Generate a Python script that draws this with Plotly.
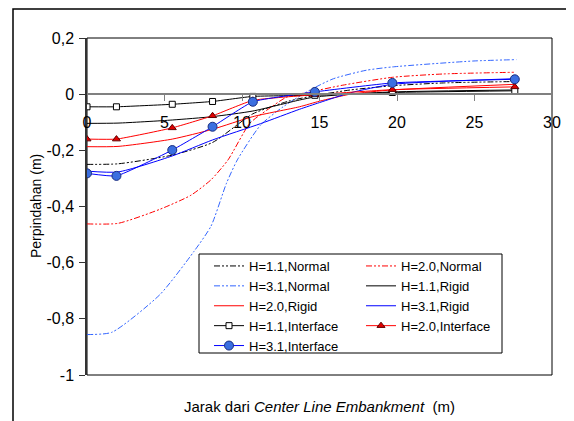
import plotly.graph_objects as go

# ---------------- data ----------------
# Interface series (with markers)
x_int = [0, 1.9, 5.5, 8.1, 10.7, 14.7, 19.7, 27.6]
y_int_11 = [-0.045, -0.045, -0.036, -0.026, -0.008, -0.004, 0.006, 0.012]
y_int_20 = [-0.16, -0.16, -0.12, -0.077, -0.022, -0.002, 0.016, 0.026]
y_int_31 = [-0.282, -0.291, -0.199, -0.116, -0.027, 0.008, 0.040, 0.053]

# Normal series (dash-dot)
x_n11 = [0, 2, 5.5, 8.1, 10.7, 13, 14.7, 17, 19.7, 23, 27.6]
y_n11 = [-0.25, -0.248, -0.217, -0.172, -0.07, -0.025, -0.005, 0.015, 0.03, 0.04, 0.045]

x_n20 = [0, 2, 4.7, 6.7, 8, 9.1, 10.5, 11.6, 12.9, 14.4, 16.5, 19.7, 23, 27.6]
y_n20 = [-0.462, -0.46, -0.41, -0.36, -0.305, -0.234, -0.104, -0.057, -0.01, 0.008, 0.032, 0.06, 0.072, 0.078]

x_n31 = [0, 1.6, 4.7, 6.9, 8, 9, 9.7, 11.2, 12.65, 14.4, 15.9, 18, 19.7, 24.9, 27.7]
y_n31 = [-0.856, -0.848, -0.714, -0.56, -0.47, -0.317, -0.234, -0.11, -0.045, 0.015, 0.055, 0.085, 0.097, 0.118, 0.123]

# Rigid series (solid)
x_r11 = [0, 2, 5.5, 8.1, 10.7, 13.7, 14.7, 17, 19.7, 27.6]
y_r11 = [-0.104, -0.103, -0.092, -0.08, -0.06, -0.021, -0.01, 0.0, 0.008, 0.015]

x_r20 = [0, 2, 5.5, 8.1, 10.7, 13.7, 15, 17, 19.7, 27.6]
y_r20 = [-0.187, -0.186, -0.16, -0.125, -0.08, -0.045, -0.025, 0.0, 0.015, 0.035]

x_r31 = [0, 2, 5.5, 8.1, 11.2, 13.7, 15, 17, 19.7, 27.6]
y_r31 = [-0.274, -0.277, -0.22, -0.163, -0.105, -0.054, -0.03, 0.005, 0.035, 0.055]

x_ticks = [0, 5, 10, 15, 20, 25, 30]
y_ticks = [0.2, 0, -0.2, -0.4, -0.6, -0.8, -1]
y_ticktext = ["0,2", "0", "-0,2", "-0,4", "-0,6", "-0,8", "-1"]

# ---------------- figure ----------------
FONT = "Liberation Sans, Arial, sans-serif"
DASHDOT = "6px,2px,2px,2px,2px,2px"
BLACK = "#000000"
RED = "#FF0000"
BLUE = "#0000FF"
LBLUE = "#3366FF"

fig = go.Figure()

def line_trace(x, y, name, color, dash, legend, width=1):
    return go.Scatter(x=x, y=y, name=name, mode="lines",
                      line=dict(color=color, width=width, dash=dash,
                                shape="spline", smoothing=0.6),
                      legend=legend)

# column 1 (legend) / column 2 (legend2), ordered as in the reference
fig.add_trace(line_trace(x_n11, y_n11, "H=1.1,Normal", BLACK, DASHDOT, "legend"))
fig.add_trace(line_trace(x_n20, y_n20, "H=2.0,Normal", RED, DASHDOT, "legend2"))
fig.add_trace(line_trace(x_n31, y_n31, "H=3.1,Normal", LBLUE, DASHDOT, "legend"))
fig.add_trace(line_trace(x_r11, y_r11, "H=1.1,Rigid", BLACK, "solid", "legend2"))
fig.add_trace(line_trace(x_r20, y_r20, "H=2.0,Rigid", RED, "solid", "legend"))
fig.add_trace(line_trace(x_r31, y_r31, "H=3.1,Rigid", BLUE, "solid", "legend2"))

fig.add_trace(go.Scatter(x=x_int, y=y_int_11, name="H=1.1,Interface", mode="lines+markers",
                         line=dict(color=BLACK, width=1, shape="spline", smoothing=0.4),
                         marker=dict(symbol="square", size=6, color="white",
                                     line=dict(color=BLACK, width=1)),
                         legend="legend"))
fig.add_trace(go.Scatter(x=x_int, y=y_int_20, name="H=2.0,Interface", mode="lines+markers",
                         line=dict(color=RED, width=1, shape="spline", smoothing=0.4),
                         marker=dict(symbol="triangle-up", size=7, color="#E00000",
                                     line=dict(color="#600000", width=1)),
                         legend="legend2"))
fig.add_trace(go.Scatter(x=x_int, y=y_int_31, name="H=3.1,Interface", mode="lines+markers",
                         line=dict(color=BLUE, width=1, shape="spline", smoothing=0.4),
                         marker=dict(symbol="circle", size=9, color="#3B6FE0",
                                     line=dict(color="#1A2E80", width=1)),
                         legend="legend"))

# window is 574x421, page body has an 8px margin
OFF = 8
W, H = 574 - OFF, 421 - OFF
PL, PR, PT, PB = 87, 552, 38, 375   # plot box in window pixels
L, R, T, B = PL - OFF, 574 - PR, PT - OFF, 421 - PB
pw = PR - PL
ph = PB - PT

def px_x(p):
    return (p - PL) / pw

def px_y(p):
    return (PB - p) / ph

fig.update_layout(
    width=W, height=H,
    margin=dict(l=L, r=R, t=T, b=B, autoexpand=False),
    paper_bgcolor="white", plot_bgcolor="white",
    font=dict(family=FONT, color="black"),
    legend=dict(x=px_x(209), y=px_y(251), xanchor="left", yanchor="top",
                bgcolor="rgba(0,0,0,0)", borderwidth=0,
                font=dict(size=13, family=FONT), tracegroupgap=0),
    legend2=dict(x=px_x(361), y=px_y(251), xanchor="left", yanchor="top",
                 bgcolor="rgba(0,0,0,0)", borderwidth=0,
                 font=dict(size=13, family=FONT), tracegroupgap=0),
    xaxis=dict(range=[0, 30], tickvals=x_ticks, showgrid=False, zeroline=False,
               anchor="free", position=1 / 1.2,
               showline=True, linecolor="#808080", linewidth=1.5,
               ticks="outside", ticklen=6, tickcolor="#808080", tickwidth=1,
               tickfont=dict(size=16, family=FONT), ticklabelstandoff=8),
    yaxis=dict(range=[-1, 0.2], tickvals=y_ticks, ticktext=y_ticktext,
               showgrid=False, zeroline=False,
               showline=True, linecolor="#333333", linewidth=1.5,
               ticks="outside", ticklen=6, tickcolor="#333333", tickwidth=1,
               tickfont=dict(size=16, family=FONT), ticklabelstandoff=2),
    showlegend=True,
)

# plot box, outer frame, legend box
fig.add_shape(type="rect", xref="paper", yref="paper", x0=0, x1=1, y0=0, y1=1,
              line=dict(color="black", width=1), layer="below")
fig.add_shape(type="rect", xref="paper", yref="paper",
              x0=px_x(13), x1=px_x(600), y0=px_y(450), y1=px_y(9),
              line=dict(color="black", width=1.5), layer="below")
fig.add_shape(type="rect", xref="paper", yref="paper",
              x0=px_x(199), x1=px_x(502), y0=px_y(353), y1=px_y(254),
              line=dict(color="black", width=1), fillcolor="white", layer="above")

fig.add_annotation(text="Perpindahan (m)", xref="paper", yref="paper",
                   x=px_x(36), y=px_y(206), textangle=-90, showarrow=False,
                   font=dict(size=14, family=FONT), xanchor="center", yanchor="middle")
fig.add_annotation(text="Jarak dari <i>Center Line Embankment</i>  (m)",
                   xref="paper", yref="paper", x=px_x(319), y=px_y(406),
                   showarrow=False, font=dict(size=15, family=FONT),
                   xanchor="center", yanchor="middle")

fig.write_html("out.html")
